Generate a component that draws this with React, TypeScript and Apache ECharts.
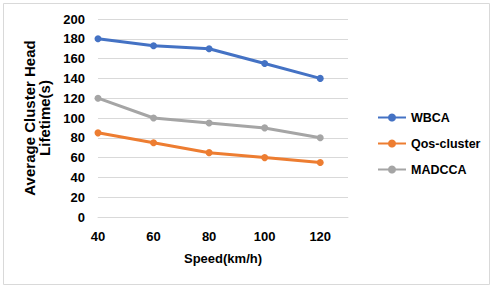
import React, { useEffect, useRef } from "react";
import * as echarts from "echarts";

const speeds = [40, 60, 80, 100, 120];
const wbca = [180, 173, 170, 155, 140];
const qosCluster = [85, 75, 65, 60, 55];
const madcca = [120, 100, 95, 90, 80];
const seriesNames = ["WBCA", "Qos-cluster", "MADCCA"];
const colors = ["#4472C4", "#ED7D31", "#A5A5A5"];

const FONT = "Liberation Sans";

export default function App() {
  const ref = useRef<HTMLDivElement>(null);
  useEffect(() => {
    if (!ref.current) return;
    const chart = echarts.init(ref.current, null, { renderer: "svg" });
    const values = [wbca, qosCluster, madcca];
    chart.setOption({
      animation: false,
      backgroundColor: "#ffffff",
      textStyle: { fontFamily: FONT },
      graphic: [
        {
          type: "rect",
          shape: { x: 3.5, y: 3.5, width: 486, height: 281 },
          style: { fill: "none", stroke: "#d9d9d9", lineWidth: 1 },
          silent: true,
        },
      ],
      grid: { left: 98, right: 144, top: 19, bottom: 71 },
      legend: {
        orient: "vertical",
        left: 377,
        top: 111,
        padding: 0,
        itemWidth: 28,
        itemHeight: 10,
        itemGap: 13,
        textStyle: { fontFamily: FONT, fontWeight: "bold", fontSize: 12.5, color: "#000" },
        data: seriesNames,
      },
      xAxis: {
        type: "value",
        min: 40,
        max: 130,
        interval: 20,
        name: "Speed(km/h)",
        nameLocation: "middle",
        nameGap: 35,
        nameTextStyle: { fontFamily: FONT, fontWeight: "bold", fontSize: 13, color: "#000" },
        axisLine: { show: true, lineStyle: { color: "#d9d9d9" } },
        axisTick: { show: false },
        splitLine: { show: false },
        axisLabel: {
          showMaxLabel: false,
          margin: 13,
          fontFamily: FONT,
          fontWeight: "bold",
          fontSize: 13,
          color: "#000",
          formatter: (v: number) => (v > 120 ? "" : String(v)),
        },
      },
      yAxis: {
        type: "value",
        min: 0,
        max: 200,
        interval: 20,
        name: "Average Cluster Head\nLifetime(s)",
        nameLocation: "middle",
        nameRotate: 90,
        nameGap: 42,
        nameTextStyle: { fontFamily: FONT, fontWeight: "bold", fontSize: 15, color: "#000", lineHeight: 15 },
        axisLine: { show: false },
        axisTick: { show: false },
        splitLine: { show: true, lineStyle: { color: "#d9d9d9" } },
        axisLabel: {
          margin: 13,
          fontFamily: FONT,
          fontWeight: "bold",
          fontSize: 13,
          color: "#000",
        },
      },
      series: seriesNames.map((name, i) => ({
        name,
        type: "line",
        data: speeds.map((s, j) => [s, values[i][j]]),
        symbol: "circle",
        symbolSize: 7,
        lineStyle: { width: 3, color: colors[i] },
        itemStyle: { color: colors[i] },
      })),
    });
    return () => chart.dispose();
  }, []);
  return (
    <div
      ref={ref}
      style={{ position: "fixed", left: 0, top: 0, width: 492, height: 288 }}
    />
  );
}
